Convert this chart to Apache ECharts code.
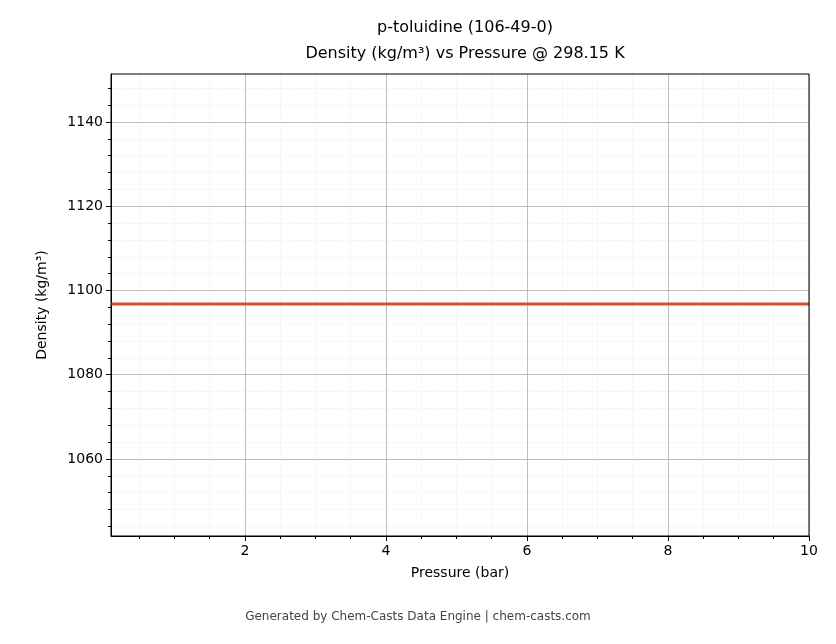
<!DOCTYPE html>
<html>
<head>
<meta charset="utf-8">
<script src="https://cdn.jsdelivr.net/npm/echarts@6/dist/echarts.min.js"></script>
<style>html,body{margin:0;background:#fff}#chart{width:836px;height:644px}</style>
</head>
<body>
<div id="chart"></div>
<script>
// data
var pressures = [0.1, 1, 2, 3, 4, 5, 6, 7, 8, 9, 10];
var densities = [1096.8, 1096.8, 1096.8, 1096.8, 1096.8, 1096.8, 1096.8, 1096.8, 1096.8, 1096.8, 1096.8];
var xTicks = [2, 4, 6, 8, 10];
var yTicks = [1060, 1080, 1100, 1120, 1140];

var xMinor = [], yMinor = [];
for (var i = 1; i <= 20; i++) xMinor.push(i * 0.5);
for (var v = 1044; v <= 1148; v += 4) yMinor.push(v);

var font = 'DejaVu Sans';
var chart = echarts.init(document.getElementById('chart'));
var axisBase = function (name, gap) {
  return {
    type: 'value', name: name, nameLocation: 'middle', nameGap: gap,
    nameTextStyle: {color: '#000', fontSize: 14, fontFamily: font},
    axisLine: {show: true, onZero: false, lineStyle: {color: '#000', width: 1}},
    axisLabel: {color: '#000', fontSize: 14, fontFamily: font, formatter: function (v) { return String(v); }},
    axisTick: {show: true, length: 5, lineStyle: {color: '#000'}},
    splitLine: {show: true, lineStyle: {color: '#b0b0b0', width: 0.8}}
  };
};
var minorAxis = function (vals) {
  return {
    type: 'value', show: true,
    axisLine: {show: false}, axisLabel: {show: false, customValues: vals},
    axisTick: {show: true, length: 3, customValues: vals, lineStyle: {color: '#000'}},
    splitLine: {show: true, lineStyle: {color: '#e4e4e4', width: 0.6, type: 'dotted'}}
  };
};

var x0 = axisBase('Pressure (bar)', 30);
x0.min = 0.1; x0.max = 10; x0.position = 'bottom';
x0.axisLabel.customValues = xTicks; x0.axisTick.customValues = xTicks;
var x1 = minorAxis(xMinor); x1.min = 0.1; x1.max = 10; x1.position = 'bottom';

var y0 = axisBase('Density (kg/m³)', 62);
y0.min = 1041.7; y0.max = 1151.4; y0.position = 'left';
y0.axisLabel.customValues = yTicks; y0.axisTick.customValues = yTicks;
var y1 = minorAxis(yMinor); y1.min = 1041.7; y1.max = 1151.4; y1.position = 'left';

chart.setOption({
  animation: false,
  title: {
    text: 'p-toluidine (106-49-0)\nDensity (kg/m³) vs Pressure @ 298.15 K',
    left: 460, top: 10, textAlign: 'center',
    textStyle: {color: '#000', fontSize: 16, fontWeight: 'normal', fontFamily: font, lineHeight: 26}
  },
  graphic: [{
    type: 'text', left: 'center', top: 611,
    style: {text: 'Generated by Chem-Casts Data Engine | chem-casts.com', fill: '#444', fontSize: 12, fontFamily: font}
  }, {
    type: 'rect', shape: {x: 111, y: 74, width: 698, height: 462},
    style: {fill: 'none', stroke: '#000', lineWidth: 1}, z: 100
  }],
  grid: {left: 111, top: 74, width: 698, height: 462, containLabel: false, outerBoundsMode: 'none'},
  xAxis: [x1, x0],
  yAxis: [y1, y0],
  series: [{
    type: 'line', xAxisIndex: 1, yAxisIndex: 1, showSymbol: false,
    data: pressures.map(function (p, i) { return [p, densities[i]]; }),
    lineStyle: {color: '#d4502a', width: 3}, z: 10
  }]
});
</script>
</body>
</html>
